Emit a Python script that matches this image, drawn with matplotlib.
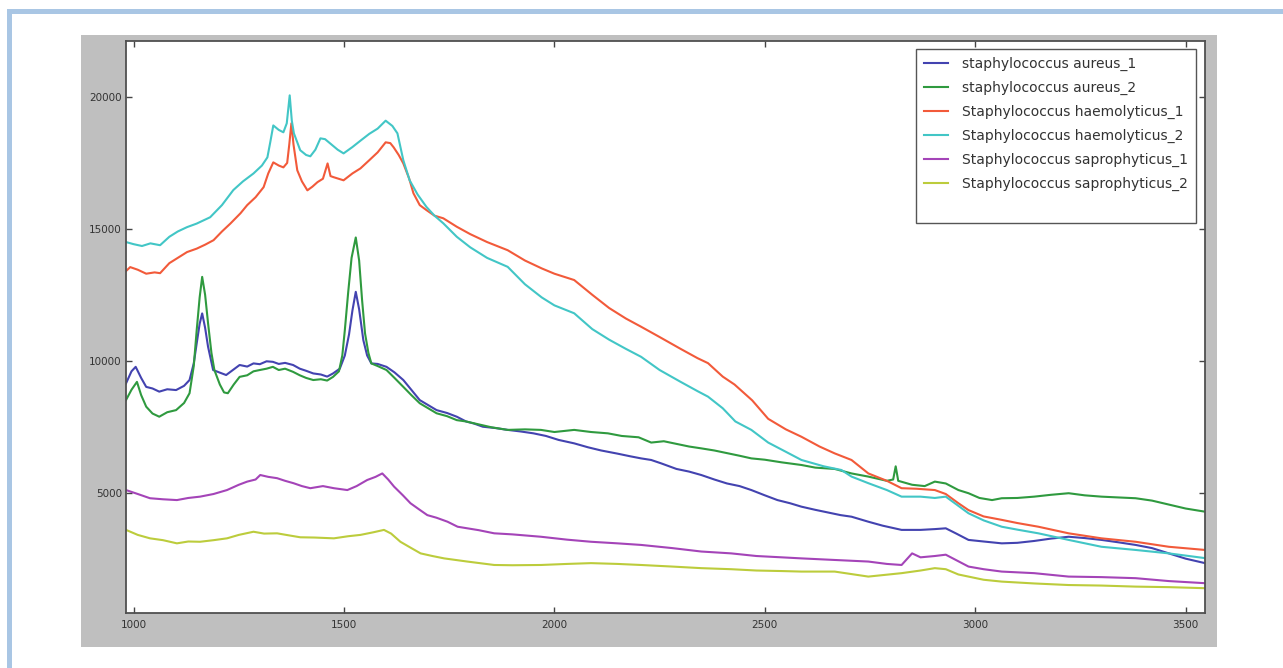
import matplotlib
matplotlib.use("Agg")
import matplotlib.pyplot as plt
from matplotlib.patches import Rectangle
from matplotlib.lines import Line2D

# ---------------- data ----------------
labels = ["staphylococcus aureus_1", "staphylococcus aureus_2",
          "Staphylococcus haemolyticus_1", "Staphylococcus haemolyticus_2",
          "Staphylococcus saprophyticus_1", "Staphylococcus saprophyticus_2"]

aureus1_x = [982, 995, 1005, 1018, 1030, 1045, 1061, 1080, 1101, 1120, 1133, 1143, 1150, 1157, 1163, 1170,
             1177, 1189, 1205, 1220, 1236, 1252, 1270, 1285, 1300, 1316, 1331, 1345, 1360, 1379, 1395, 1410,
             1427, 1445, 1460, 1474, 1490, 1502, 1512, 1520, 1528, 1536, 1546, 1555, 1565, 1580, 1601, 1620,
             1641, 1660, 1680, 1700, 1720, 1745, 1768, 1790, 1809, 1830, 1860, 1889, 1920, 1950, 1980, 2010,
             2047, 2080, 2111, 2150, 2180, 2206, 2230, 2254, 2290, 2320, 2349, 2380, 2410, 2440, 2468, 2500,
             2530, 2560, 2587, 2620, 2650, 2680, 2706, 2746, 2780, 2825, 2870, 2904, 2930, 2955, 2984, 3020,
             3063, 3100, 3140, 3180, 3222, 3260, 3300, 3340, 3381, 3420, 3460, 3500, 3546]
aureus1_y = [9140, 9600, 9770, 9350, 9010, 8950, 8830, 8920, 8890, 9050, 9270, 9900, 10660, 11400, 11795, 11250,
             10530, 9650, 9550, 9460, 9650, 9840, 9780, 9900, 9870, 9980, 9960, 9880, 9920, 9840, 9700, 9620,
             9520, 9480, 9400, 9520, 9700, 10200, 11000, 11900, 12614, 11950, 10780, 10200, 9900, 9880, 9770, 9560,
             9270, 8900, 8510, 8320, 8130, 8020, 7880, 7700, 7620, 7500, 7450, 7380, 7320, 7250, 7150, 7000,
             6870, 6720, 6600, 6480, 6380, 6300, 6240, 6110, 5900, 5800, 5670, 5500, 5350, 5250, 5100, 4900,
             4720, 4600, 4470, 4350, 4250, 4150, 4090, 3900, 3750, 3590, 3590, 3620, 3650, 3450, 3210, 3150,
             3080, 3100, 3170, 3260, 3330, 3280, 3210, 3120, 3020, 2900, 2700, 2500, 2330]

aureus2_x = [982, 995, 1008, 1018, 1030, 1045, 1061, 1080, 1101, 1120, 1133, 1143, 1150, 1157, 1163, 1170,
             1177, 1185, 1192, 1205, 1215, 1224, 1238, 1252, 1270, 1285, 1300, 1316, 1331, 1345, 1360, 1379,
             1395, 1410, 1427, 1445, 1460, 1474, 1488, 1496, 1502, 1510, 1518, 1528, 1536, 1543, 1550, 1558,
             1565, 1580, 1601, 1620, 1641, 1660, 1680, 1700, 1720, 1745, 1768, 1790, 1809, 1850, 1889, 1930,
             1968, 2000, 2047, 2087, 2127, 2160, 2200, 2230, 2260, 2290, 2320, 2349, 2380, 2410, 2440, 2468,
             2500, 2540, 2587, 2620, 2666, 2706, 2746, 2790, 2805, 2811, 2817, 2850, 2880, 2904, 2930, 2960,
             2984, 3010, 3040, 3063, 3100, 3140, 3180, 3222, 3260, 3300, 3340, 3381, 3420, 3460, 3500, 3546]
aureus2_y = [8510, 8900, 9200, 8700, 8260, 8000, 7880, 8050, 8130, 8400, 8770, 9800, 11160, 12400, 13180, 12500,
             11420, 10300, 9650, 9100, 8800, 8770, 9100, 9390, 9450, 9600, 9650, 9700, 9770, 9650, 9700, 9580,
             9450, 9350, 9270, 9300, 9250, 9390, 9600, 10200, 11160, 12600, 13900, 14674, 13800, 12300, 11040, 10300,
             9900, 9800, 9650, 9350, 9010, 8700, 8390, 8200, 8010, 7900, 7750, 7700, 7630, 7480, 7380, 7400,
             7380, 7300, 7380, 7300, 7250, 7150, 7100, 6900, 6950, 6850, 6750, 6680, 6600, 6500, 6400, 6300,
             6250, 6150, 6050, 5950, 5900, 5730, 5610, 5450, 5500, 6000, 5450, 5300, 5250, 5420, 5350, 5100,
             4980, 4800, 4720, 4790, 4800, 4850, 4920, 4980, 4900, 4850, 4820, 4790, 4700, 4550, 4400, 4280]

haemo1_x = [982, 992, 1010, 1030, 1050, 1063, 1085, 1100, 1127, 1150, 1170, 1190, 1210, 1230, 1254, 1270,
            1290, 1309, 1320, 1332, 1345, 1356, 1365, 1370, 1375, 1380, 1389, 1400, 1413, 1425, 1437, 1450,
            1461, 1468, 1475, 1487, 1499, 1520, 1539, 1560, 1580, 1599, 1610, 1618, 1630, 1641, 1655, 1665,
            1680, 1696, 1715, 1736, 1768, 1800, 1840, 1889, 1930, 1970, 2000, 2047, 2090, 2130, 2170, 2206,
            2250, 2300, 2340, 2365, 2400, 2428, 2470, 2508, 2550, 2587, 2630, 2666, 2706, 2746, 2790, 2825,
            2860, 2904, 2930, 2960, 2984, 3020, 3063, 3100, 3150, 3222, 3300, 3381, 3460, 3546]
haemo1_y = [13400, 13550, 13450, 13300, 13350, 13320, 13700, 13850, 14120, 14250, 14400, 14570, 14900, 15200, 15590, 15900,
            16200, 16580, 17100, 17520, 17400, 17330, 17500, 18200, 19000, 18200, 17220, 16800, 16460, 16600, 16770, 16900,
            17480, 17000, 16960, 16900, 16840, 17100, 17290, 17600, 17900, 18280, 18250, 18090, 17800, 17480, 16900, 16350,
            15900, 15710, 15500, 15400, 15080, 14800, 14500, 14190, 13800, 13500, 13300, 13060, 12500, 12000, 11600, 11290,
            10900, 10450, 10100, 9910, 9400, 9100, 8500, 7800, 7400, 7120, 6750, 6490, 6240, 5730, 5450, 5170,
            5150, 5100, 4950, 4600, 4340, 4100, 3970, 3850, 3710, 3460, 3270, 3140, 2950, 2830]

haemo2_x = [982, 1000, 1020, 1040, 1063, 1085, 1105, 1127, 1150, 1182, 1210, 1237, 1260, 1285, 1305, 1318,
            1325, 1332, 1345, 1356, 1364, 1371, 1376, 1381, 1396, 1410, 1420, 1432, 1444, 1455, 1467, 1485,
            1499, 1520, 1539, 1560, 1580, 1599, 1615, 1627, 1641, 1656, 1675, 1696, 1715, 1736, 1768, 1800,
            1840, 1889, 1930, 1970, 2000, 2047, 2090, 2130, 2170, 2206, 2250, 2300, 2340, 2365, 2400, 2430,
            2468, 2508, 2550, 2587, 2640, 2682, 2706, 2746, 2790, 2825, 2870, 2904, 2930, 2960, 2984, 3020,
            3063, 3100, 3150, 3222, 3300, 3381, 3460, 3546]
haemo2_y = [14500, 14420, 14350, 14450, 14380, 14700, 14900, 15065, 15200, 15440, 15900, 16470, 16800, 17100, 17400, 17710,
            18300, 18920, 18750, 18660, 19000, 20060, 19100, 18620, 17980, 17800, 17750, 18000, 18430, 18400, 18240, 18000,
            17860, 18100, 18340, 18600, 18800, 19100, 18900, 18620, 17600, 16840, 16300, 15830, 15500, 15210, 14700, 14300,
            13900, 13560, 12900, 12400, 12100, 11800, 11200, 10800, 10450, 10150, 9650, 9200, 8850, 8640, 8200, 7700,
            7380, 6900, 6550, 6240, 6000, 5860, 5610, 5360, 5100, 4850, 4850, 4800, 4850, 4500, 4220, 3950,
            3710, 3600, 3460, 3210, 2950, 2830, 2700, 2520]

sapro1_x = [982, 1010, 1039, 1070, 1103, 1130, 1158, 1190, 1222, 1250, 1270, 1290, 1301, 1320, 1341, 1360,
            1380, 1400, 1420, 1450, 1476, 1508, 1530, 1555, 1575, 1591, 1605, 1619, 1640, 1658, 1680, 1698,
            1720, 1746, 1770, 1793, 1820, 1857, 1900, 1968, 2030, 2087, 2150, 2206, 2280, 2349, 2420, 2480,
            2540, 2587, 2666, 2746, 2790, 2825, 2850, 2870, 2904, 2930, 2960, 2984, 3020, 3063, 3140, 3222,
            3300, 3381, 3460, 3546]
sapro1_y = [5100, 4950, 4790, 4750, 4720, 4800, 4850, 4950, 5100, 5300, 5420, 5500, 5670, 5600, 5550, 5450,
            5360, 5250, 5170, 5250, 5170, 5100, 5250, 5480, 5600, 5730, 5500, 5230, 4900, 4600, 4350, 4150,
            4050, 3900, 3710, 3650, 3580, 3460, 3420, 3330, 3220, 3140, 3080, 3020, 2900, 2770, 2700, 2600,
            2550, 2510, 2450, 2390, 2300, 2260, 2700, 2550, 2600, 2650, 2400, 2200, 2100, 2010, 1950, 1820,
            1800, 1760, 1650, 1570]

sapro2_x = [982, 1010, 1039, 1070, 1103, 1130, 1158, 1190, 1222, 1250, 1285, 1310, 1341, 1370, 1396, 1430,
            1476, 1510, 1539, 1570, 1595, 1612, 1634, 1660, 1682, 1710, 1738, 1793, 1857, 1900, 1968, 2030,
            2087, 2150, 2206, 2280, 2349, 2420, 2480, 2540, 2587, 2666, 2746, 2825, 2870, 2904, 2930, 2960,
            2984, 3020, 3063, 3140, 3222, 3300, 3381, 3460, 3546]
sapro2_y = [3590, 3400, 3270, 3200, 3080, 3150, 3140, 3200, 3270, 3400, 3520, 3450, 3460, 3380, 3310, 3300,
            3270, 3350, 3400, 3500, 3590, 3450, 3140, 2900, 2700, 2600, 2510, 2390, 2260, 2250, 2260, 2300,
            2330, 2300, 2260, 2200, 2140, 2100, 2050, 2030, 2010, 2010, 1820, 1950, 2050, 2140, 2100, 1900,
            1820, 1700, 1630, 1560, 1500, 1480, 1440, 1420, 1380]

x_ticks = [1000, 1500, 2000, 2500, 3000, 3500]
y_ticks = [5000, 10000, 15000, 20000]

series_x = [aureus1_x, aureus2_x, haemo1_x, haemo2_x, sapro1_x, sapro2_x]
series_y = [aureus1_y, aureus2_y, haemo1_y, haemo2_y, sapro1_y, sapro2_y]
colors = ["#4343b0", "#2f9a3f", "#f25a3a", "#42c6c6", "#a444b8", "#bccc3c"]

# ---------------- figure ----------------
W, H = 1283, 668
fig = plt.figure(figsize=(W / 100, H / 100), dpi=100, facecolor="white")

def px_rect(x0, y0, x1, y1, color):
    fig.add_artist(Rectangle((x0 / W, 1 - y1 / H), (x1 - x0) / W, (y1 - y0) / H,
                             transform=fig.transFigure, facecolor=color, edgecolor="none", zorder=0))

# light blue page frame
px_rect(7, 9, 12, H, "#a9c6e4")
px_rect(7, 9, W, 14, "#a9c6e4")
# grey figure background of the embedded plot
px_rect(81, 35, 1217, 647, "#bfbfbf")

ax_l, ax_r, ax_t, ax_b = 126, 1205, 41, 613
ax = fig.add_axes([ax_l / W, 1 - ax_b / H, (ax_r - ax_l) / W, (ax_b - ax_t) / H])
ax.set_facecolor("white")

handles = []
for xs, ys, c, lab in zip(series_x, series_y, colors, labels):
    ln, = ax.plot(xs, ys, color=c, lw=1.5, label=lab)
    handles.append(ln)

ax.set_xlim(982, 3546)
ax.set_ylim(440, 22120)
ax.set_xticks(x_ticks)
ax.set_yticks(y_ticks)
ax.tick_params(direction="in", top=True, right=True, length=4, width=1,
               color="#444444", labelsize=7.5, labelcolor="#333333")
ax.tick_params(axis="x", pad=5)
ax.tick_params(axis="y", pad=3)
for s in ax.spines.values():
    s.set_color("#505050")
    s.set_linewidth(1.3)

# legend: an empty trailing row reproduces the extra space at the bottom of the box
blank = Line2D([], [], color="none")
leg = ax.legend(handles + [blank], labels + [" "], loc="upper right",
                bbox_to_anchor=((1196 - ax_l) / (ax_r - ax_l), (ax_b - 49) / (ax_b - ax_t)),
                borderaxespad=0, fontsize=10, labelspacing=0.7, handlelength=1.7,
                handletextpad=1.0, fancybox=False, framealpha=1,
                edgecolor="#555555", borderpad=0.6)
leg.get_frame().set_linewidth(1.0)
for t in leg.get_texts():
    t.set_color("#333333")
for lh in leg.get_lines():
    lh.set_linewidth(1.5)

fig.savefig("out.png", dpi=100, facecolor="white")
